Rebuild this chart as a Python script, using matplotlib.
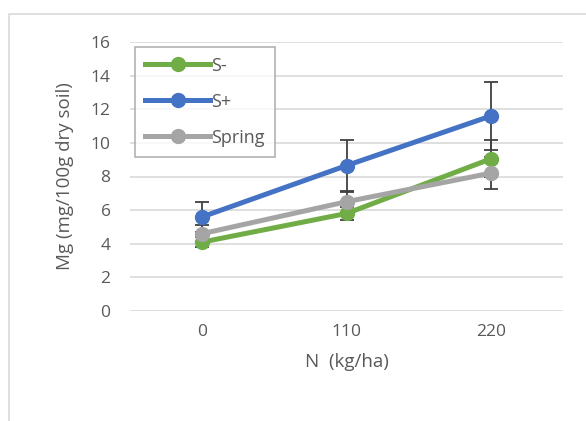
import matplotlib.pyplot as plt
from matplotlib.patches import Rectangle

# data
n_rates = ['0', '110', '220']
s_minus = [4.1, 5.8, 9.05]
s_plus = [5.6, 8.65, 11.6]
spring = [4.6, 6.5, 8.2]
err_minus = [0.3, 0.4, 1.1]
err_plus = [0.9, 1.5, 2.0]
err_spring = [0.5, 0.6, 0.95]

plt.rcParams['font.family'] = ['Open Sans', 'DejaVu Sans']
txt = '#595959'

fig = plt.figure(figsize=(5.86, 4.21), dpi=100)
ax = fig.add_axes([130/586, 1-311/421, 433/586, 269/421])

# outer chart frame
fig.patches.append(Rectangle((9/586, -0.1), 1.2, (421-14)/421 + 0.1, transform=fig.transFigure,
                             fill=False, edgecolor='#d9d9d9', linewidth=1.2))

x = range(len(n_rates))
series = [(s_minus, err_minus, '#70ad47', 'S-'),
          (s_plus, err_plus, '#4472c4', 'S+'),
          (spring, err_spring, '#a5a5a5', 'Spring')]
for vals, errs, col, lab in series:
    ax.errorbar(x, vals, yerr=errs, fmt='none', ecolor='#404040', elinewidth=1.3,
                capsize=5, capthick=1.3, zorder=3)
    ax.plot(x, vals, color=col, linewidth=3.6, marker='o', markersize=10,
            label=lab, zorder=4)

ax.set_xlim(-0.5, 2.5)
ax.set_ylim(0, 16)
ax.set_yticks(range(0, 17, 2))
ax.set_xticks(list(x))
ax.set_xticklabels(n_rates)
ax.grid(axis='y', color='#d9d9d9', linewidth=1.2)
ax.set_axisbelow(True)
for s in ax.spines.values():
    s.set_visible(False)
ax.tick_params(length=0, labelsize=12.5, colors=txt, pad=9)
ax.tick_params(axis='y', pad=14)
ax.set_xlabel('N  (kg/ha)', fontsize=13.5, color=txt, labelpad=10)
ax.set_ylabel('Mg (mg/100g dry soil)', fontsize=13.5, color=txt, labelpad=12)

leg = ax.legend(loc='upper left', bbox_to_anchor=(0.0, 1.003), fontsize=13,
                frameon=True, fancybox=False, handlelength=3.6, handletextpad=0.05,
                labelspacing=1.0, borderpad=0.55, borderaxespad=0.3, labelcolor=txt)
leg.get_frame().set_edgecolor('#a0a0a0')
leg.get_frame().set_linewidth(1.2)

plt.savefig('out.png', dpi=100)
